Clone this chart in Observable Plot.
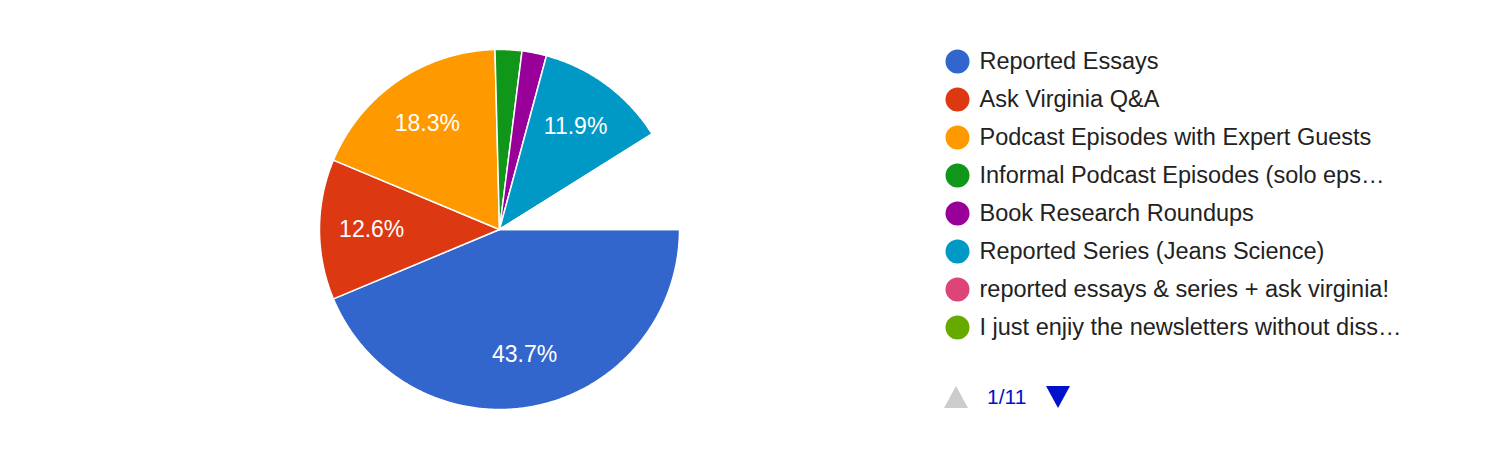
<!DOCTYPE html>
<html>
<head>
<meta charset="utf-8">
<script src="https://cdn.jsdelivr.net/npm/d3@7"></script>
<script src="https://cdn.jsdelivr.net/npm/@observablehq/plot@0.6"></script>
<style>
  html, body { margin: 0; padding: 0; background: #fff; }
  #wrap { position: relative; width: 1488px; height: 464px; overflow: hidden; font-family: "Liberation Sans", Arial, sans-serif; }
  #pie { position: absolute; left: 0; top: 0; }
  #legend { position: absolute; left: 930px; top: 0; }
  #pager { position: absolute; left: 944px; top: 385px; height: 24px; display: flex; align-items: center; }
  #pager .up { width: 0; height: 0; border-left: 12px solid transparent; border-right: 12px solid transparent; border-bottom: 22px solid #cccccc; }
  #pager .down { width: 0; height: 0; border-left: 12px solid transparent; border-right: 12px solid transparent; border-top: 22px solid #0011cc; }
  #pager .page { color: #0011cc; font-size: 21px; margin: 0 20px 0 19px; }
</style>
</head>
<body>
<div id="wrap">
  <div id="pie"></div>
  <div id="legend"></div>
  <div id="pager"><div class="up"></div><div class="page" id="pagetext"></div><div class="down"></div></div>
</div>
<script>
// ---- data ----
const categories = [
  "Reported Essays",
  "Ask Virginia Q&A",
  "Podcast Episodes with Expert Guests",
  "Informal Podcast Episodes (solo eps…",
  "Book Research Roundups",
  "Reported Series (Jeans Science)",
  "reported essays & series + ask virginia!",
  "I just enjiy the newsletters without diss…",
  "Other single write-in answers (legend pages 2–11)"
];
const percents = [43.7, 12.6, 18.3, 2.4, 2.2, 11.9, 0.1, 0.1, 8.7];
const colors = ["#3366cc", "#dc3912", "#ff9900", "#109618", "#990099", "#0099c6", "#dd4477", "#66aa00", "#ffffff"];
const legendCount = 8;      // entries shown on legend page 1
const pageLabel = "1/11";
const labelMin = 5;         // slices below this percent carry no label

// ---- build pie slices as planar polygons (angles clockwise from 3 o'clock) ----
const total = d3.sum(percents);
let acc = 0;
const slices = categories.map((name, i) => {
  const a0 = acc / total * 2 * Math.PI;
  acc += percents[i];
  const a1 = acc / total * 2 * Math.PI;
  const n = Math.max(2, Math.ceil((a1 - a0) / (Math.PI / 360)));
  const ring = [[0, 0]];
  for (let k = 0; k <= n; k++) {
    const a = a0 + (a1 - a0) * k / n;
    ring.push([Math.cos(a), Math.sin(a)]);
  }
  ring.push([0, 0]);
  return {
    type: "Feature",
    properties: {name, pct: percents[i], color: colors[i], mid: (a0 + a1) / 2},
    geometry: {type: "Polygon", coordinates: [ring]}
  };
});
const diskRing = d3.range(0, 361, 1).map(a => [Math.cos(a * Math.PI / 180), Math.sin(a * Math.PI / 180)]);
const disk = {type: "Polygon", coordinates: [diskRing]};
const labeled = slices.filter(s => s.properties.pct >= labelMin && s.properties.color !== "#ffffff");
const labelRadius = 0.71;

const pie = Plot.plot({
  width: 998,
  height: 464,
  marginLeft: 0,
  marginRight: 0,
  marginTop: 49,
  marginBottom: 55,
  style: {fontFamily: "'Liberation Sans', Arial, sans-serif", background: "white"},
  projection: {type: "identity", domain: disk},
  marks: [
    Plot.geo(slices, {fill: d => d.properties.color, stroke: "white", strokeWidth: 1.5}),
    Plot.text(labeled, {
      x: d => labelRadius * Math.cos(d.properties.mid),
      y: d => labelRadius * Math.sin(d.properties.mid),
      text: d => d3.format(".1f")(d.properties.pct) + "%",
      fill: "white",
      fontSize: 23
    })
  ]
});
document.getElementById("pie").appendChild(pie);

const legendCats = categories.slice(0, legendCount);
const legend = Plot.plot({
  width: 540,
  height: 464,
  marginLeft: 0,
  marginRight: 0,
  marginTop: 61,
  marginBottom: 137,
  style: {fontFamily: "'Liberation Sans', Arial, sans-serif", background: "white"},
  y: {type: "point", domain: legendCats, padding: 0, axis: null},
  marks: [
    Plot.dot(legendCats, {y: d => d, r: 12, fill: (d, i) => colors[i], frameAnchor: "left", dx: 27}),
    Plot.text(legendCats, {y: d => d, text: d => d, frameAnchor: "left", textAnchor: "start", dx: 49, fontSize: 23.5, fill: "#222222"})
  ]
});
document.getElementById("legend").appendChild(legend);
document.getElementById("pagetext").textContent = pageLabel;
</script>
</body>
</html>
